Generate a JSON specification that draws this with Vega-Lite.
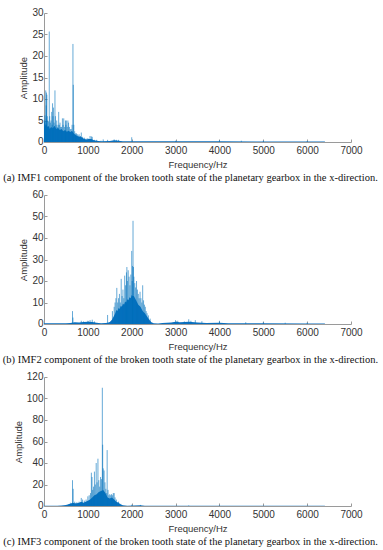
{
  "$schema": "https://vega.github.io/schema/vega-lite/v6.json",
  "padding": {"left": 2, "top": 7, "right": 2, "bottom": 2},
  "background": "white",
  "spacing": 6,
  "config": {
    "view": {"stroke": null},
    "axis": {
      "grid": false,
      "domainColor": "#9a9a9a",
      "tickColor": "#9a9a9a",
      "tickSize": -3,
      "labelFont": "Liberation Sans",
      "labelFontSize": 10,
      "labelColor": "#333333",
      "labelPadding": 4,
      "labelOverlap": false,
      "labelFlush": false,
      "format": "d",
      "titleFont": "Liberation Sans",
      "titleFontSize": 9.5,
      "titleFontWeight": "normal",
      "titleColor": "#333333"
    },
    "axisX": {"titlePadding": 4, "labelPadding": 6},
    "axisY": {"titlePadding": 3, "labelOffset": -0.5},
    "title": {
      "orient": "bottom",
      "anchor": "middle",
      "font": "Liberation Serif",
      "fontSize": 10.5,
      "fontWeight": "normal",
      "color": "#111111",
      "offset": 4,
      "dx": -7
    }
  },
  "datasets": {
    "b1": [
      {"f": 0, "a": 3}, {"f": 15, "a": 5}, {"f": 30, "a": 3.5}, {"f": 45, "a": 6}, {"f": 60, "a": 4}, {"f": 80, "a": 3.5},
      {"f": 100, "a": 3.8}, {"f": 130, "a": 3}, {"f": 160, "a": 3.5}, {"f": 200, "a": 3.2}, {"f": 240, "a": 3.8}, {"f": 280, "a": 3},
      {"f": 320, "a": 3.3}, {"f": 360, "a": 2.8}, {"f": 400, "a": 3}, {"f": 440, "a": 2.5}, {"f": 480, "a": 2.8}, {"f": 520, "a": 2.4},
      {"f": 560, "a": 2.6}, {"f": 600, "a": 2.3}, {"f": 640, "a": 2.6}, {"f": 680, "a": 2}, {"f": 720, "a": 1.6}, {"f": 780, "a": 1.3},
      {"f": 840, "a": 1.2}, {"f": 900, "a": 0.8}, {"f": 960, "a": 0.6}, {"f": 1020, "a": 0.7}, {"f": 1080, "a": 0.7}, {"f": 1140, "a": 0.4},
      {"f": 1200, "a": 0.3}, {"f": 1300, "a": 0.2}, {"f": 1500, "a": 0.25}, {"f": 1600, "a": 0.4}, {"f": 1700, "a": 0.3}, {"f": 1800, "a": 0.2},
      {"f": 2000, "a": 0.2}, {"f": 3000, "a": 0.15}, {"f": 4000, "a": 0.15}, {"f": 5000, "a": 0.12}, {"f": 6400, "a": 0.12}, {"f": 6410, "a": 0}
    ],
    "s1": [
      {"f": 10, "a": 5}, {"f": 20, "a": 6.2}, {"f": 30, "a": 4}, {"f": 40, "a": 12}, {"f": 50, "a": 8.5}, {"f": 55, "a": 11.5},
      {"f": 65, "a": 11}, {"f": 75, "a": 6}, {"f": 85, "a": 5}, {"f": 100, "a": 4.8}, {"f": 110, "a": 3.5}, {"f": 120, "a": 25.7},
      {"f": 130, "a": 6}, {"f": 145, "a": 4.5}, {"f": 160, "a": 5}, {"f": 175, "a": 7}, {"f": 185, "a": 4}, {"f": 195, "a": 9},
      {"f": 205, "a": 6}, {"f": 215, "a": 8}, {"f": 230, "a": 4.5}, {"f": 250, "a": 12}, {"f": 260, "a": 6}, {"f": 275, "a": 4},
      {"f": 290, "a": 5}, {"f": 300, "a": 3.5}, {"f": 320, "a": 4}, {"f": 335, "a": 7}, {"f": 350, "a": 4}, {"f": 365, "a": 4.5},
      {"f": 380, "a": 3.5}, {"f": 400, "a": 3.5}, {"f": 420, "a": 5.5}, {"f": 435, "a": 4}, {"f": 450, "a": 5.5}, {"f": 470, "a": 3.5},
      {"f": 490, "a": 5}, {"f": 500, "a": 4}, {"f": 510, "a": 5}, {"f": 530, "a": 3.5}, {"f": 545, "a": 5}, {"f": 560, "a": 4.5},
      {"f": 580, "a": 3.5}, {"f": 600, "a": 3}, {"f": 620, "a": 3}, {"f": 640, "a": 4}, {"f": 660, "a": 22.8}, {"f": 668, "a": 13.3},
      {"f": 680, "a": 4}, {"f": 700, "a": 2.5}, {"f": 720, "a": 2}, {"f": 740, "a": 2}, {"f": 760, "a": 1.8}, {"f": 780, "a": 1.5},
      {"f": 800, "a": 1.8}, {"f": 830, "a": 1.4}, {"f": 850, "a": 2.2}, {"f": 880, "a": 1.2}, {"f": 920, "a": 1}, {"f": 960, "a": 0.8},
      {"f": 1000, "a": 0.9}, {"f": 1050, "a": 1.4}, {"f": 1080, "a": 1.3}, {"f": 1100, "a": 1.2}, {"f": 1150, "a": 0.5}, {"f": 1200, "a": 0.5},
      {"f": 1300, "a": 0.3}, {"f": 1350, "a": 0.6}, {"f": 1450, "a": 0.5}, {"f": 1600, "a": 0.6}, {"f": 1650, "a": 0.5}, {"f": 1700, "a": 0.5},
      {"f": 2000, "a": 1.1}, {"f": 3000, "a": 0.3}, {"f": 4000, "a": 0.4}, {"f": 4500, "a": 0.3}, {"f": 5000, "a": 0.3}, {"f": 6000, "a": 0.2}
    ],
    "b2": [
      {"f": 0, "a": 0.3}, {"f": 500, "a": 0.4}, {"f": 600, "a": 0.5}, {"f": 700, "a": 0.8}, {"f": 800, "a": 0.7}, {"f": 900, "a": 0.9},
      {"f": 1000, "a": 1}, {"f": 1100, "a": 0.9}, {"f": 1200, "a": 0.6}, {"f": 1300, "a": 0.3}, {"f": 1400, "a": 0.5}, {"f": 1450, "a": 0.6},
      {"f": 1500, "a": 0.9}, {"f": 1550, "a": 2}, {"f": 1600, "a": 4}, {"f": 1625, "a": 5}, {"f": 1650, "a": 6.5}, {"f": 1675, "a": 6},
      {"f": 1700, "a": 7.5}, {"f": 1725, "a": 7}, {"f": 1750, "a": 8.5}, {"f": 1775, "a": 8}, {"f": 1800, "a": 9.5}, {"f": 1825, "a": 9},
      {"f": 1850, "a": 10.5}, {"f": 1875, "a": 10}, {"f": 1900, "a": 11.5}, {"f": 1925, "a": 11}, {"f": 1950, "a": 12.5}, {"f": 1975, "a": 12},
      {"f": 2000, "a": 13.5}, {"f": 2025, "a": 13}, {"f": 2050, "a": 13}, {"f": 2075, "a": 12}, {"f": 2100, "a": 11}, {"f": 2125, "a": 10},
      {"f": 2150, "a": 9}, {"f": 2175, "a": 8.5}, {"f": 2200, "a": 8}, {"f": 2225, "a": 7}, {"f": 2250, "a": 6}, {"f": 2275, "a": 5.5},
      {"f": 2300, "a": 5}, {"f": 2350, "a": 3.5}, {"f": 2400, "a": 2}, {"f": 2450, "a": 0.8}, {"f": 2500, "a": 0.3}, {"f": 2600, "a": 0.2},
      {"f": 2700, "a": 0.5}, {"f": 2900, "a": 0.7}, {"f": 3000, "a": 1}, {"f": 3100, "a": 0.8}, {"f": 3300, "a": 1}, {"f": 3500, "a": 0.7},
      {"f": 3700, "a": 0.5}, {"f": 4000, "a": 0.6}, {"f": 4200, "a": 0.3}, {"f": 5000, "a": 0.3}, {"f": 6000, "a": 0.25}, {"f": 6400, "a": 0.25},
      {"f": 6410, "a": 0}
    ],
    "s2": [
      {"f": 650, "a": 6}, {"f": 660, "a": 3}, {"f": 850, "a": 1.5}, {"f": 900, "a": 1.2}, {"f": 1000, "a": 1.5}, {"f": 1050, "a": 1.8},
      {"f": 1100, "a": 2}, {"f": 1150, "a": 1.2}, {"f": 1450, "a": 4.2}, {"f": 1560, "a": 6}, {"f": 1600, "a": 8}, {"f": 1620, "a": 10},
      {"f": 1640, "a": 12}, {"f": 1660, "a": 16.8}, {"f": 1680, "a": 10}, {"f": 1700, "a": 12}, {"f": 1720, "a": 14}, {"f": 1740, "a": 10},
      {"f": 1760, "a": 21}, {"f": 1780, "a": 13}, {"f": 1800, "a": 16}, {"f": 1820, "a": 12}, {"f": 1840, "a": 22.5}, {"f": 1860, "a": 18},
      {"f": 1880, "a": 24}, {"f": 1890, "a": 26.5}, {"f": 1900, "a": 20}, {"f": 1920, "a": 25}, {"f": 1940, "a": 22}, {"f": 1960, "a": 18},
      {"f": 1980, "a": 23}, {"f": 2000, "a": 34}, {"f": 2010, "a": 20}, {"f": 2020, "a": 27}, {"f": 2030, "a": 48}, {"f": 2040, "a": 26.5},
      {"f": 2050, "a": 22}, {"f": 2070, "a": 19}, {"f": 2090, "a": 17}, {"f": 2110, "a": 20}, {"f": 2130, "a": 16}, {"f": 2150, "a": 14},
      {"f": 2170, "a": 12}, {"f": 2190, "a": 15}, {"f": 2210, "a": 12}, {"f": 2230, "a": 10}, {"f": 2250, "a": 18}, {"f": 2270, "a": 11},
      {"f": 2290, "a": 9}, {"f": 2310, "a": 8}, {"f": 2330, "a": 6}, {"f": 2350, "a": 5}, {"f": 2380, "a": 4}, {"f": 2420, "a": 2.5},
      {"f": 3000, "a": 1.8}, {"f": 3050, "a": 1.5}, {"f": 3200, "a": 1.2}, {"f": 3300, "a": 2.2}, {"f": 3350, "a": 1.5}, {"f": 3450, "a": 1.8},
      {"f": 3600, "a": 1.3}, {"f": 4000, "a": 1.5}, {"f": 4600, "a": 0.8}, {"f": 5000, "a": 0.8}, {"f": 5500, "a": 0.6}, {"f": 6000, "a": 0.6}
    ],
    "b3": [
      {"f": 0, "a": 0.2}, {"f": 300, "a": 0.3}, {"f": 400, "a": 0.5}, {"f": 500, "a": 1}, {"f": 600, "a": 2}, {"f": 650, "a": 3},
      {"f": 700, "a": 2.5}, {"f": 750, "a": 2.5}, {"f": 800, "a": 3}, {"f": 850, "a": 4}, {"f": 900, "a": 3}, {"f": 950, "a": 4},
      {"f": 1000, "a": 5}, {"f": 1050, "a": 6}, {"f": 1100, "a": 8}, {"f": 1150, "a": 10}, {"f": 1200, "a": 11}, {"f": 1250, "a": 13},
      {"f": 1300, "a": 14}, {"f": 1350, "a": 15}, {"f": 1400, "a": 12}, {"f": 1450, "a": 8}, {"f": 1500, "a": 7}, {"f": 1550, "a": 8},
      {"f": 1600, "a": 6}, {"f": 1650, "a": 4}, {"f": 1700, "a": 3}, {"f": 1750, "a": 1.5}, {"f": 1800, "a": 0.8}, {"f": 1850, "a": 0.4},
      {"f": 1900, "a": 0.3}, {"f": 2200, "a": 0.6}, {"f": 2300, "a": 0.3}, {"f": 3000, "a": 0.25}, {"f": 6400, "a": 0.25}, {"f": 6410, "a": 0}
    ],
    "s3": [
      {"f": 560, "a": 1.5}, {"f": 600, "a": 3}, {"f": 650, "a": 24}, {"f": 665, "a": 16}, {"f": 700, "a": 4}, {"f": 750, "a": 3.5},
      {"f": 800, "a": 4}, {"f": 850, "a": 7.5}, {"f": 880, "a": 6}, {"f": 920, "a": 5}, {"f": 960, "a": 6}, {"f": 1000, "a": 9},
      {"f": 1030, "a": 10}, {"f": 1060, "a": 12}, {"f": 1080, "a": 31}, {"f": 1095, "a": 27}, {"f": 1110, "a": 15}, {"f": 1130, "a": 18},
      {"f": 1150, "a": 32}, {"f": 1170, "a": 20}, {"f": 1190, "a": 40}, {"f": 1210, "a": 22}, {"f": 1230, "a": 44}, {"f": 1250, "a": 24},
      {"f": 1270, "a": 18}, {"f": 1290, "a": 27}, {"f": 1310, "a": 25}, {"f": 1330, "a": 110}, {"f": 1338, "a": 57}, {"f": 1350, "a": 35},
      {"f": 1370, "a": 33}, {"f": 1390, "a": 22}, {"f": 1410, "a": 16}, {"f": 1430, "a": 12}, {"f": 1440, "a": 52}, {"f": 1460, "a": 15},
      {"f": 1480, "a": 10}, {"f": 1500, "a": 11}, {"f": 1520, "a": 10}, {"f": 1540, "a": 11}, {"f": 1560, "a": 10}, {"f": 1580, "a": 12},
      {"f": 1600, "a": 12}, {"f": 1620, "a": 8}, {"f": 1650, "a": 6}, {"f": 1700, "a": 4}, {"f": 1750, "a": 2}, {"f": 2000, "a": 1.2},
      {"f": 2200, "a": 1}, {"f": 3300, "a": 0.5}, {"f": 4000, "a": 0.4}
    ]
  },
  "vconcat": [
    {
      "width": 307, "height": 129,
      "title": "(a) IMF1 component of the broken tooth state of the planetary gearbox in the x-direction.",
      "layer": [
        {
          "data": {"name": "b1"},
          "mark": {"type": "area", "color": "#0a6fbf", "interpolate": "linear"},
          "encoding": {
            "x": {"field": "f", "type": "quantitative", "scale": {"domain": [0, 7000], "nice": false}, "axis": {"values": [0, 1000, 2000, 3000, 4000, 5000, 6000, 7000], "labelOverlap": false, "title": "Frequency/Hz"}},
            "y": {"field": "a", "type": "quantitative", "scale": {"domain": [0, 30], "nice": false}, "axis": {"values": [0, 5, 10, 15, 20, 25, 30], "labelOverlap": false, "tickCount": 7, "title": "Amplitude"}}
          }
        },
        {
          "data": {"name": "s1"},
          "mark": {"type": "rule", "color": "#0072BD", "strokeWidth": 1, "opacity": 0.6},
          "encoding": {
            "x": {"field": "f", "type": "quantitative"},
            "y": {"field": "a", "type": "quantitative"},
            "y2": {"datum": 0}
          }
        }
      ]
    },
    {
      "width": 307, "height": 129,
      "title": "(b) IMF2 component of the broken tooth state of the planetary gearbox in the x-direction.",
      "layer": [
        {
          "data": {"name": "b2"},
          "mark": {"type": "area", "color": "#0a6fbf", "interpolate": "linear"},
          "encoding": {
            "x": {"field": "f", "type": "quantitative", "scale": {"domain": [0, 7000], "nice": false}, "axis": {"values": [0, 1000, 2000, 3000, 4000, 5000, 6000, 7000], "labelOverlap": false, "title": "Frequency/Hz"}},
            "y": {"field": "a", "type": "quantitative", "scale": {"domain": [0, 60], "nice": false}, "axis": {"values": [0, 10, 20, 30, 40, 50, 60], "labelOverlap": false, "tickCount": 7, "title": "Amplitude"}}
          }
        },
        {
          "data": {"name": "s2"},
          "mark": {"type": "rule", "color": "#0072BD", "strokeWidth": 1, "opacity": 0.6},
          "encoding": {
            "x": {"field": "f", "type": "quantitative"},
            "y": {"field": "a", "type": "quantitative"},
            "y2": {"datum": 0}
          }
        }
      ]
    },
    {
      "width": 307, "height": 129,
      "title": "(c) IMF3 component of the broken tooth state of the planetary gearbox in the x-direction.",
      "layer": [
        {
          "data": {"name": "b3"},
          "mark": {"type": "area", "color": "#0a6fbf", "interpolate": "linear"},
          "encoding": {
            "x": {"field": "f", "type": "quantitative", "scale": {"domain": [0, 7000], "nice": false}, "axis": {"values": [0, 1000, 2000, 3000, 4000, 5000, 6000, 7000], "labelOverlap": false, "title": "Frequency/Hz"}},
            "y": {"field": "a", "type": "quantitative", "scale": {"domain": [0, 120], "nice": false}, "axis": {"values": [0, 20, 40, 60, 80, 100, 120], "labelOverlap": false, "tickCount": 7, "title": "Amplitude"}}
          }
        },
        {
          "data": {"name": "s3"},
          "mark": {"type": "rule", "color": "#0072BD", "strokeWidth": 1, "opacity": 0.6},
          "encoding": {
            "x": {"field": "f", "type": "quantitative"},
            "y": {"field": "a", "type": "quantitative"},
            "y2": {"datum": 0}
          }
        }
      ]
    }
  ]
}
